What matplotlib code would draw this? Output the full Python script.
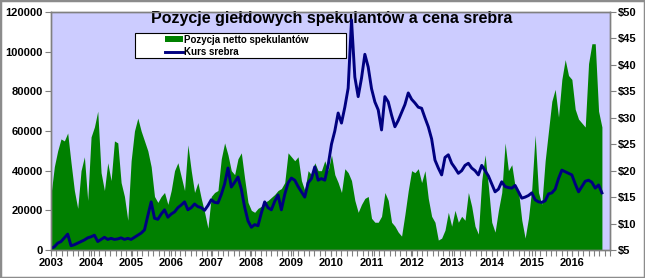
import numpy as np
import matplotlib
matplotlib.use('Agg')
import matplotlib.pyplot as plt
from matplotlib.patches import Rectangle
from matplotlib.ticker import FuncFormatter, MultipleLocator

plt.rcParams['font.family'] = ['Liberation Sans', 'DejaVu Sans']

# miesięczne odczyty, start: styczeń 2003 (wg etykiet osi)
start_year = 2003
year_labels = list(range(2003, 2017))

# pozycja netto spekulantów (tys. kontraktów)
pozycja = [28, 42, 50, 56, 55, 59, 44, 30, 21, 40, 47, 25,
           57, 62, 70, 39, 30, 44, 35, 55, 54, 34, 27, 15,
           45, 60, 66.5, 60, 55, 50, 42, 27, 24, 27, 29, 23,
           30, 40, 44, 37, 30, 53, 40, 29, 34, 26, 19, 11,
           27, 29, 30, 46, 54, 48, 40, 38, 46, 49, 36, 24,
           20, 19, 21, 22, 24, 25, 26.5, 28, 30, 31, 34, 49,
           47, 45, 47, 35, 30, 40, 38, 44, 40, 40, 45, 40,
           48, 38, 34, 29, 41, 39, 35, 25, 19, 23, 26, 27,
           16, 14, 14, 17, 29, 25, 14, 12, 9, 7, 18, 30,
           40, 39, 41, 34, 40, 26, 17, 14, 5, 6, 10, 19,
           12, 20, 14, 17, 15, 29, 22, 12, 8, 35, 48, 32,
           14, 9, 20, 29, 54, 40, 43, 32, 30, 15, 6, 16,
           31, 58, 29, 23, 45, 60, 75, 81, 67, 86, 96, 88,
           86, 71, 66, 64, 62, 94, 104, 104, 70, 62]
pozycja = [v * 1000 for v in pozycja]

# kurs srebra (USD/oz)
srebro = [5.3, 5.6, 6.3, 6.6, 7.3, 8.0, 5.8, 6.0, 6.3, 6.6, 6.9, 7.3,
          7.5, 7.8, 6.6, 7.0, 7.4, 7.0, 7.2, 7.0, 7.1, 7.3, 7.0, 7.2,
          7.0, 7.4, 7.8, 8.2, 8.8, 11.5, 14.1, 11.0, 10.8, 11.8, 12.6, 11.2,
          11.8, 12.2, 13.0, 13.5, 14.1, 12.6, 13.0, 13.7, 13.2, 13.0, 12.5, 13.4,
          14.5, 14.0, 13.9, 15.5, 17.5, 20.5, 16.9, 17.8, 18.8, 16.5, 13.1, 10.5,
          9.3, 9.8, 9.6, 12.0, 14.1, 13.0, 12.6, 14.2, 15.4, 12.6, 15.5, 17.7,
          18.6, 18.2, 17.0, 16.0, 15.0, 17.7, 18.5, 20.7, 18.2, 18.5, 18.2, 21.0,
          25.0, 27.5, 30.9, 29.0, 32.0, 35.6, 48.5, 37.7, 34.0, 37.5, 42.0, 39.6,
          35.5, 33.0, 31.5, 27.7, 34.0, 33.0, 30.5, 28.3, 29.5, 31.0, 32.5, 34.7,
          33.5, 32.8, 32.0, 31.8, 30.0, 28.3, 26.0, 22.0, 20.5, 19.2, 22.5, 23.0,
          21.4, 20.5, 19.5, 20.0, 21.0, 21.4, 20.5, 20.0, 19.2, 21.0, 20.0, 19.0,
          17.5, 16.0, 16.5, 17.9, 17.0, 16.8, 16.7, 17.2, 16.0, 14.8, 15.0, 15.3,
          15.8, 14.5, 14.1, 14.0, 14.3, 15.6, 15.8, 16.5, 18.5, 20.1, 19.8, 19.5,
          19.2, 17.5, 16.0, 17.0, 18.0, 18.2, 17.8, 16.7, 17.3, 15.8]

x = start_year + np.arange(len(pozycja)) / 12.0

fig = plt.figure(figsize=(6.45, 2.78), dpi=100)
fig.patch.set_facecolor('white')
fig.patches.append(Rectangle((0, 0), 1, 1, transform=fig.transFigure,
                             fill=False, edgecolor='#8c8c8c', lw=2.5))

ax = fig.add_axes([51 / 645, 28 / 278, 559 / 645, 238 / 278])
ax.set_facecolor('#CCCCFF')
ax.fill_between(x, 0, pozycja, color='#008000', lw=0, label='Pozycja netto spekulantów')
ax.set_ylim(0, 120000)
ax.set_xlim(start_year, x[-1] + 1 / 24)
ax.yaxis.set_major_locator(MultipleLocator(20000))

ax2 = ax.twinx()
ax2.plot(x, srebro, color='#000080', lw=2.1, label='Kurs srebra')
ax2.set_ylim(5, 50)
ax2.yaxis.set_major_locator(MultipleLocator(5))
ax2.yaxis.set_major_formatter(FuncFormatter(lambda v, p: f'${v:.0f}'))

ax.set_xticks(year_labels)
ax.set_xticklabels([str(y) for y in year_labels])
ax.set_xticks(start_year + np.arange(0, 14, 7 / 52.18), minor=True)

for a in (ax, ax2):
    for s in a.spines.values():
        s.set_color('#808080')
        s.set_linewidth(1.0)
    a.tick_params(axis='both', which='both', direction='out', color='#808080',
                  labelsize=8, length=4, width=0.8, pad=2)
    for lab in a.get_xticklabels() + a.get_yticklabels():
        lab.set_fontweight('bold')

ax.set_title('Pozycje giełdowych spekulantów a cena srebra', fontsize=11.5,
             fontweight='bold', y=0.955, x=0.503, pad=0)

# ramka legendy jak w Excelu (szeroka, z dużym marginesem)
ax2.add_patch(Rectangle((0.150, 0.807), 0.378, 0.105, transform=ax2.transAxes,
                        facecolor='white', edgecolor='black', lw=0.8, zorder=5))
h1, l1 = ax.get_legend_handles_labels()
h2, l2 = ax2.get_legend_handles_labels()
leg = ax2.legend(h1 + h2, l1 + l2, loc='upper left', bbox_to_anchor=(0.204, 0.905),
                 frameon=False, prop={'weight': 'bold', 'size': 7},
                 handlelength=1.8, handleheight=0.6, borderpad=0,
                 labelspacing=0.25, handletextpad=0.15, borderaxespad=0)
leg.set_zorder(6)

fig.savefig('out.png', dpi=100)
